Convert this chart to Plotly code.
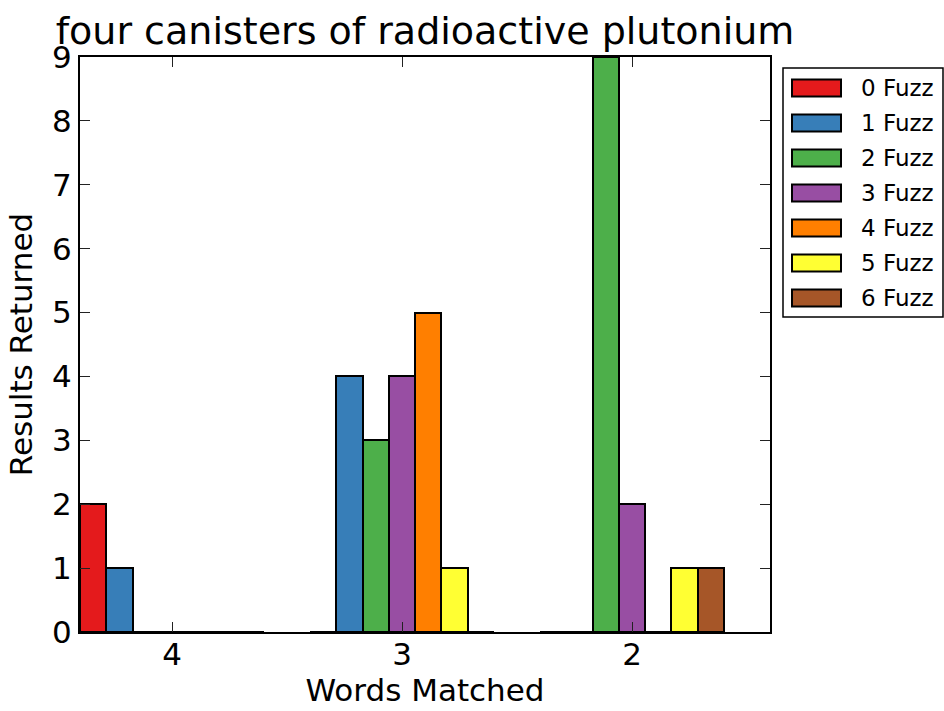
import plotly.graph_objects as go

# Grouped bar chart: results returned per number of words matched, by fuzz level
words_matched = ["4", "3", "2"]
series_names = ["0 Fuzz", "1 Fuzz", "2 Fuzz", "3 Fuzz", "4 Fuzz", "5 Fuzz", "6 Fuzz"]
fuzz0 = [2, 0, 0]
fuzz1 = [1, 4, 0]
fuzz2 = [0, 3, 9]
fuzz3 = [0, 4, 2]
fuzz4 = [0, 5, 0]
fuzz5 = [0, 1, 1]
fuzz6 = [0, 0, 1]
series_values = [fuzz0, fuzz1, fuzz2, fuzz3, fuzz4, fuzz5, fuzz6]
colors = ["#e41a1c", "#377eb8", "#4daf4a", "#984ea3", "#ff7f00", "#ffff33", "#a65628"]

FONT = "DejaVu Sans"
W, H = 944, 711
L, R, T, B = 80, 174, 57, 79
PW, PH = W - L - R, H - T - B

bar_w = 0.8 / len(series_names)
groups = list(range(len(words_matched)))

fig = go.Figure()
for k, (name, vals, col) in enumerate(zip(series_names, series_values, colors)):
    fig.add_trace(go.Bar(
        x=[g + k * bar_w + bar_w / 2 for g in groups],
        y=vals,
        width=bar_w,
        name=name,
        marker=dict(color=col, line=dict(color="black", width=2)),
        showlegend=False,
    ))


def px_x(p):
    return (p - L) / PW


def px_y(p):
    return (H - B - p) / PH


# Legend box with swatches, drawn in paper coordinates
shapes = [dict(type="rect", xref="paper", yref="paper",
               x0=px_x(783), x1=px_x(943), y0=px_y(317), y1=px_y(68),
               line=dict(color="black", width=1.5), fillcolor="white", layer="above")]
annotations = []
for k, (name, col) in enumerate(zip(series_names, colors)):
    cy = 88 + 35 * k
    shapes.append(dict(type="rect", xref="paper", yref="paper",
                       x0=px_x(792), x1=px_x(841), y0=px_y(cy + 8.5), y1=px_y(cy - 8.5),
                       line=dict(color="black", width=2), fillcolor=col, layer="above"))
    annotations.append(dict(xref="paper", yref="paper", x=px_x(859), y=px_y(cy),
                            xanchor="left", yanchor="middle", text=name, showarrow=False,
                            font=dict(family=FONT, size=23, color="black")))

axis_common = dict(
    showline=True, linecolor="black", linewidth=2, mirror="ticks",
    ticks="inside", ticklen=10, tickwidth=1, tickcolor="#222",
    showgrid=False, zeroline=False,
    tickfont=dict(family=FONT, size=31, color="black"),
)

fig.update_layout(
    width=W, height=H,
    margin=dict(l=L, r=R, t=T, b=B, autoexpand=False),
    paper_bgcolor="white", plot_bgcolor="white",
    barmode="overlay", bargap=0,
    title=dict(text="four canisters of radioactive plutonium", x=0.5, xref="paper",
               xanchor="center", y=1, yref="paper", yanchor="bottom", pad=dict(b=13),
               font=dict(family=FONT, size=38, color="black")),
    xaxis=dict(axis_common, range=[0, 3],
               tickvals=[g + 0.4 for g in groups], ticktext=words_matched,
               ticklabelstandoff=-6,
               title=dict(text="Words Matched", standoff=0,
                          font=dict(family=FONT, size=31, color="black"))),
    yaxis=dict(axis_common, range=[0, 9], dtick=1,
               title=dict(text="Results Returned", standoff=10,
                          font=dict(family=FONT, size=31, color="black"))),
    shapes=shapes,
    annotations=annotations,
)

fig.write_html("out.html")
